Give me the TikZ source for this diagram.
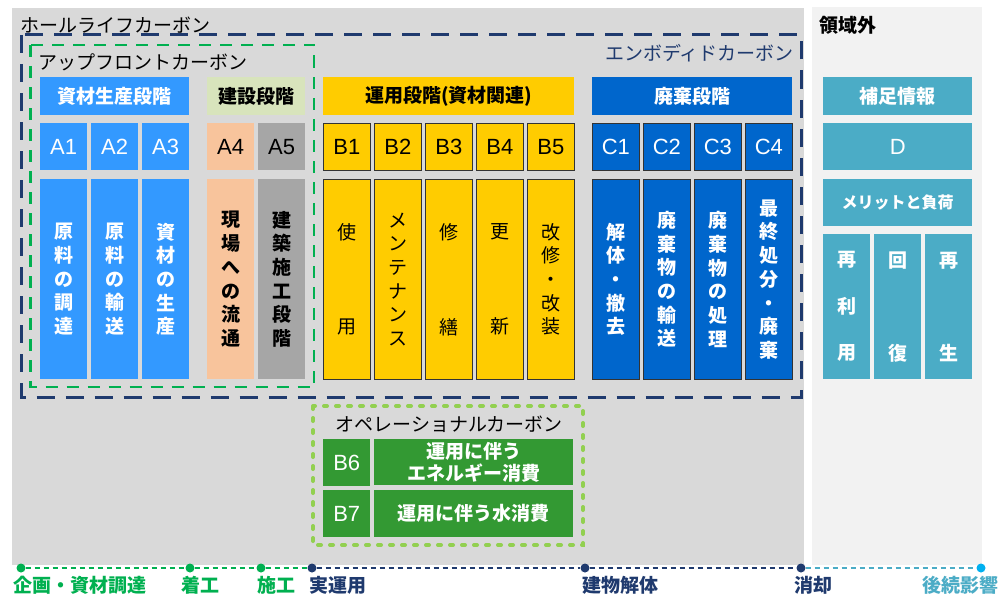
\documentclass[tikz,border=0pt]{standalone}
\usepackage{fontspec}
\setmainfont{Noto Sans CJK JP}
\newfontfamily\latf{Liberation Sans}
\newcommand\myfs[2]{\fontsize{#1}{#2}\selectfont}
\definecolor{bgg}{HTML}{D9D9D9}
\definecolor{bgl}{HTML}{F2F2F2}
\definecolor{navy}{HTML}{1F3A6E}
\definecolor{gdash}{HTML}{00B050}
\definecolor{ablue}{HTML}{3399FF}
\definecolor{kens}{HTML}{D8E4BC}
\definecolor{peach}{HTML}{F8C49C}
\definecolor{agray}{HTML}{A6A6A6}
\definecolor{yel}{HTML}{FFCC00}
\definecolor{cblue}{HTML}{0066CC}
\definecolor{teal}{HTML}{4BACC6}
\definecolor{opg}{HTML}{339933}
\definecolor{lgreen}{HTML}{92D050}
\definecolor{sky}{HTML}{00B0F0}
\begin{document}
\begin{tikzpicture}[x=1pt,y=-1pt,
  cell/.style={rectangle, inner sep=0pt, anchor=north west, align=center},
  hdr/.style={cell, minimum height=38pt, font=\myfs{19}{22}\bfseries},
  code/.style={cell, minimum width=47pt, minimum height=47pt, font=\latf\myfs{22}{22}},
  desc/.style={cell, minimum width=47pt, minimum height=200pt, font=\myfs{19}{23.7}\bfseries},
  descr/.style={cell, minimum width=47pt, minimum height=200pt, font=\myfs{19}{23.7}},
  bord/.style={draw=black!80, line width=0.8pt},
  lbl/.style={inner sep=0pt, font=\myfs{19}{22}},
  dot/.style={circle, inner sep=0pt, minimum size=9pt},
  tl/.style={line width=2.5pt, dash pattern=on 5pt off 4pt},
  tlab/.style={inner sep=0pt, anchor=west, font=\myfs{19}{22}\bfseries}]
\useasboundingbox (0,0) rectangle (998,594);
\fill[white] (0,0) rectangle (998,594);
\fill[bgg] (12,8) rectangle (804,565);
\fill[bgl] (812,7) rectangle (982,565);

% labels
\node[lbl, anchor=west] (whole) at (20,25) {ホールライフカーボン};
\node[lbl, anchor=west, font=\myfs{19}{22}\bfseries] (outside) at (819,25) {領域外};
\node[lbl, anchor=west] (upfront) at (38,62) {アップフロントカーボン};
\node[lbl, anchor=east, text=navy] (embodied) at (794,53.5) {エンボディドカーボン};

% dashed frames
\draw[navy, line width=3pt, dash pattern=on 18pt off 11pt] (21.5,35) rectangle (801,397);
\draw[gdash, line width=2.5pt, dash pattern=on 12pt off 9pt] (30.5,45) rectangle (314,387);

% headers
\node[hdr, fill=ablue, text=white, minimum width=149pt] (hA) at (40,77) {資材生産段階};
\node[hdr, fill=kens, minimum width=98pt] (hK) at (207,77) {建設段階};
\node[hdr, fill=yel, minimum width=251pt] (hB) at (323,77) {運用段階(資材関連)};
\node[hdr, fill=cblue, text=white, minimum width=200pt] (hC) at (592,77) {廃棄段階};
\node[hdr, fill=teal, text=white, minimum width=149pt] (hD) at (823,77) {補足情報};

% codes
\node[code, fill=ablue, text=white] (A1) at (40,123) {A1};
\node[code, fill=ablue, text=white] (A2) at (91,123) {A2};
\node[code, fill=ablue, text=white] (A3) at (142,123) {A3};
\node[code, fill=peach] (A4) at (207,123) {A4};
\node[code, fill=agray] (A5) at (258,123) {A5};
\node[code, fill=yel, bord] (B1) at (323,123) {B1};
\node[code, fill=yel, bord] (B2) at (374,123) {B2};
\node[code, fill=yel, bord] (B3) at (425,123) {B3};
\node[code, fill=yel, bord] (B4) at (476,123) {B4};
\node[code, fill=yel, bord] (B5) at (527,123) {B5};
\node[code, fill=cblue, text=white, bord] (C1) at (592,123) {C1};
\node[code, fill=cblue, text=white, bord] (C2) at (643,123) {C2};
\node[code, fill=cblue, text=white, bord] (C3) at (694,123) {C3};
\node[code, fill=cblue, text=white, bord] (C4) at (745,123) {C4};
\node[code, fill=teal, text=white, minimum width=149pt] (D) at (823,123) {D};

% descriptions
\node[desc, fill=ablue, text=white] (dA1) at (40,179) {原\\料\\の\\調\\達};
\node[desc, fill=ablue, text=white] (dA2) at (91,179) {原\\料\\の\\輸\\送};
\node[desc, fill=ablue, text=white] (dA3) at (142,179) {資\\材\\の\\生\\産};
\node[desc, fill=peach] (dA4) at (207,179) {現\\場\\へ\\の\\流\\通};
\node[desc, fill=agray] (dA5) at (258,179) {建\\築\\施\\工\\段\\階};
\node[descr, fill=yel, bord] (dB1) at (323,179) {使\\[71.1pt]用};
\node[descr, fill=yel, bord] (dB2) at (374,179) {メ\\ン\\テ\\ナ\\ン\\ス};
\node[descr, fill=yel, bord] (dB3) at (425,179) {修\\[71.1pt]繕};
\node[descr, fill=yel, bord] (dB4) at (476,179) {更\\[71.1pt]新};
\node[descr, fill=yel, bord] (dB5) at (527,179) {改\\修\\・\\改\\装};
\node[desc, fill=cblue, text=white, bord] (dC1) at (592,179) {解\\体\\・\\撤\\去};
\node[desc, fill=cblue, text=white, bord] (dC2) at (643,179) {廃\\棄\\物\\の\\輸\\送};
\node[desc, fill=cblue, text=white, bord] (dC3) at (694,179) {廃\\棄\\物\\の\\処\\理};
\node[desc, fill=cblue, text=white, bord] (dC4) at (745,179) {最\\終\\処\\分\\・\\廃\\棄};
\node[cell, fill=teal, text=white, minimum width=149pt, minimum height=47pt, font=\myfs{16}{18}\bfseries] (merit) at (823,179) {メリットと負荷};
\node[desc, fill=teal, text=white, minimum height=145pt] (dD1) at (823,234) {再\\[22.8pt]利\\[22.8pt]用};
\node[desc, fill=teal, text=white, minimum height=145pt] (dD2) at (874,234) {回\\[69.3pt]復};
\node[desc, fill=teal, text=white, minimum height=145pt] (dD3) at (925,234) {再\\[69.3pt]生};

% operational carbon
\draw[lgreen, line width=4pt, dash pattern=on 3pt off 9pt, line cap=round] (313,406) rectangle (583,545);
\node[lbl] (oper) at (449,424) {オペレーショナルカーボン};
\node[code, fill=opg, text=white] (B6) at (323,439) {B6};
\node[cell, fill=opg, text=white, minimum width=199pt, minimum height=46pt, font=\myfs{19}{22}\bfseries] (B6t) at (374,439) {運用に伴う\\エネルギー消費};
\node[code, fill=opg, text=white] (B7) at (323,490) {B7};
\node[cell, fill=opg, text=white, minimum width=199pt, minimum height=47pt, font=\myfs{19}{22}\bfseries] (B7t) at (374,490) {運用に伴う水消費};

% timeline
\node[dot, fill=gdash] (t1) at (21,568) {};
\node[dot, fill=gdash] (t2) at (190,568) {};
\node[dot, fill=gdash] (t3) at (261,568) {};
\node[dot, fill=navy] (t4) at (312,568) {};
\node[dot, fill=navy] (t5) at (585,568) {};
\node[dot, fill=navy] (t6) at (801,568) {};
\node[dot, fill=sky] (t7) at (981,568) {};
\draw[tl, gdash] (t1) -- (t2) -- (t3) -- (t4);
\draw[tl, navy] (t4) -- (t5) -- (t6);
\draw[tl, teal] (t6) -- (t7);
\node[tlab, text=gdash] (l1) at (13,585) {企画・資材調達};
\node[tlab, text=gdash] (l2) at (181,585) {着工};
\node[tlab, text=gdash] (l3) at (257,585) {施工};
\node[tlab, text=navy] (l4) at (309,585) {実運用};
\node[tlab, text=navy] (l5) at (582,585) {建物解体};
\node[tlab, text=navy] (l6) at (794,585) {消却};
\node[tlab, text=teal] (l7) at (922,585) {後続影響};
\end{tikzpicture}
\end{document}
